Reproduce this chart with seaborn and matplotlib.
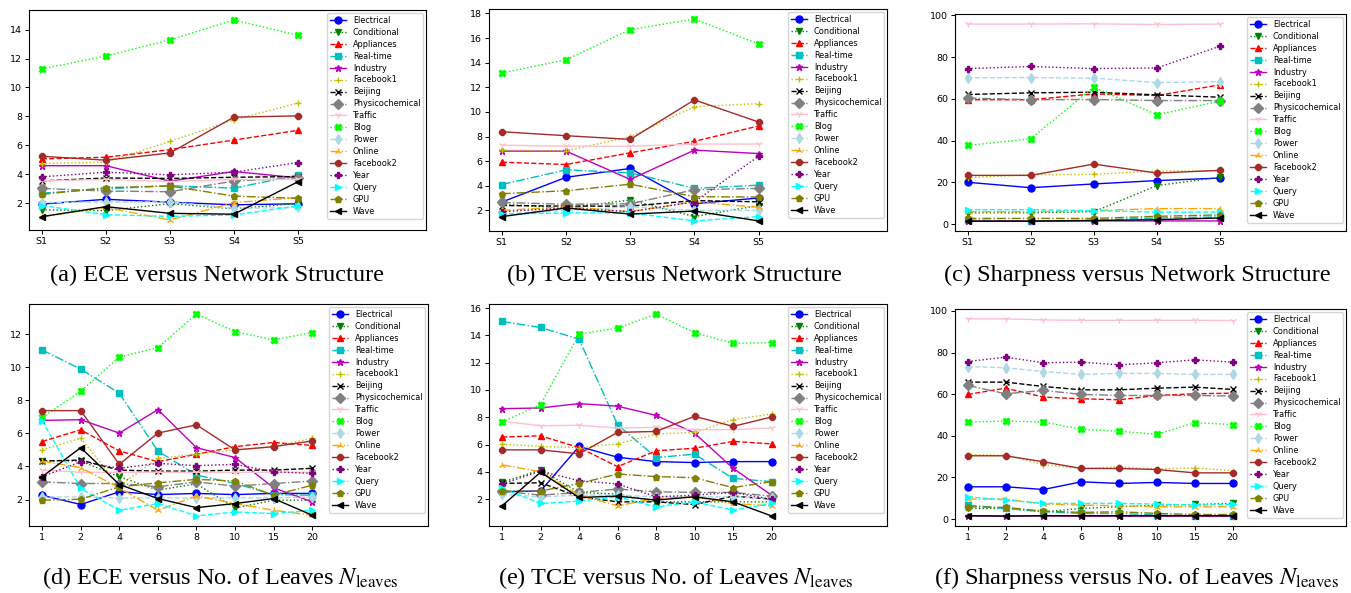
import matplotlib
matplotlib.use("Agg")
import matplotlib.pyplot as plt
from matplotlib.ticker import MultipleLocator
import seaborn as sns
import numpy as np

names = ["Electrical", "Conditional", "Appliances", "Real-time", "Industry", "Facebook1",
         "Beijing", "Physicochemical", "Traffic", "Blog", "Power", "Online", "Facebook2",
         "Year", "Query", "GPU", "Wave"]
colors = ["blue", "green", "red", "c", "m", "y", "black", "gray", "pink", "lime",
          "lightblue", "orange", "brown", "purple", "cyan", "olive", "black"]
markers = ["o", "v", "^", "s", "*", "+", "x", "D", "1", "X", "d", "2", "8", "P", ">", "p", "<"]
styles = ["-", ":", "--", "-."]

struct_labels = ["S1", "S2", "S3", "S4", "S5"]
leaves_labels = ["1", "2", "4", "6", "8", "10", "15", "20"]

ece_struct = [
    [1.95, 2.28, 2.08, 1.9, 1.97],
    [1.55, 1.5, 1.98, 1.62, 2.0],
    [5.07, 5.18, 5.71, 6.37, 7.04],
    [2.7, 3.0, 3.22, 3.05, 3.95],
    [4.6, 4.6, 3.53, 4.2, 3.76],
    [4.75, 4.84, 6.28, 7.77, 8.92],
    [3.55, 3.75, 3.72, 3.8, 3.85],
    [3.03, 2.85, 2.8, 3.54, 3.75],
    [3.56, 3.65, 3.5, 3.65, 3.65],
    [11.28, 12.17, 13.29, 14.66, 13.6],
    [2.05, 2.1, 2.1, 1.65, 1.72],
    [1.08, 1.72, 0.85, 2.05, 2.4],
    [5.25, 4.98, 5.48, 7.95, 8.04],
    [3.83, 4.15, 3.97, 4.15, 4.82],
    [1.85, 1.22, 1.1, 1.2, 1.82],
    [2.62, 3.08, 3.2, 2.5, 2.35],
    [1.08, 1.77, 1.31, 1.25, 3.49],
]
tce_struct = [
    [2.68, 4.69, 5.41, 2.55, 3.01],
    [2.5, 2.2, 2.85, 1.5, 2.4],
    [5.92, 5.73, 6.68, 7.61, 8.86],
    [4.1, 5.3, 5.05, 3.8, 4.05],
    [6.82, 6.82, 4.52, 6.9, 6.62],
    [6.9, 6.84, 7.99, 10.43, 10.68],
    [2.4, 2.35, 2.35, 2.8, 2.7],
    [2.65, 2.5, 2.54, 3.68, 3.79],
    [7.3, 7.22, 7.22, 7.39, 7.39],
    [13.16, 14.24, 16.69, 17.54, 15.52],
    [1.7, 2.0, 2.3, 2.0, 2.0],
    [2.0, 2.3, 1.9, 2.7, 2.25],
    [8.39, 8.07, 7.77, 10.98, 9.18],
    [1.9, 2.2, 1.9, 2.7, 6.4],
    [1.7, 1.8, 1.8, 1.15, 1.5],
    [3.36, 3.6, 4.13, 3.12, 3.09],
    [1.5, 2.2, 1.7, 1.95, 1.15],
]
sharp_struct = [
    [20.1, 17.5, 19.3, 20.9, 22.1],
    [5.5, 5.5, 6.0, 18.5, 22.5],
    [59.6, 59.6, 62.4, 61.6, 66.7],
    [2.0, 1.5, 2.0, 3.0, 3.5],
    [1.5, 1.5, 1.6, 1.6, 1.6],
    [22.3, 23.7, 23.9, 25.5, 25.5],
    [62.1, 62.9, 63.2, 61.9, 60.8],
    [60.4, 59.6, 59.7, 59.2, 59.2],
    [95.8, 95.8, 95.9, 95.6, 95.8],
    [37.7, 40.9, 65.6, 52.4, 58.9],
    [70.1, 70.2, 69.9, 67.8, 68.2],
    [6.0, 6.0, 6.5, 7.5, 7.5],
    [23.4, 23.4, 28.8, 24.5, 25.8],
    [74.5, 75.5, 74.5, 74.8, 85.2],
    [7.0, 7.0, 6.5, 5.8, 5.8],
    [2.8, 2.8, 2.8, 3.8, 4.5],
    [1.5, 1.5, 1.8, 2.2, 3.0],
]
ece_leaves = [
    [2.26, 1.7, 2.47, 2.3, 2.37, 2.3, 2.37, 2.37],
    [4.33, 4.33, 3.38, 2.57, 2.95, 1.49, 1.96, 1.96],
    [5.51, 6.22, 4.94, 4.29, 4.74, 5.2, 5.45, 5.27],
    [11.05, 9.89, 8.43, 4.94, 3.48, 2.97, 2.3, 2.26],
    [6.79, 6.83, 6.02, 7.44, 5.14, 4.54, 2.71, 1.86],
    [5.0, 5.71, 2.83, 4.49, 4.74, 5.0, 5.2, 5.71],
    [4.33, 4.39, 3.78, 3.72, 3.72, 3.78, 3.78, 3.89],
    [3.07, 2.97, 2.97, 2.77, 3.07, 2.81, 2.97, 3.12],
    [3.78, 3.65, 3.65, 3.65, 3.65, 3.65, 3.65, 3.65],
    [6.97, 8.55, 10.62, 11.19, 13.22, 12.16, 11.66, 12.1],
    [2.16, 2.16, 2.1, 2.1, 2.1, 2.1, 2.1, 2.16],
    [4.33, 3.93, 2.71, 1.35, 2.22, 1.76, 1.35, 1.05],
    [7.38, 7.38, 4.13, 6.02, 6.52, 5.0, 5.2, 5.55],
    [3.38, 4.29, 3.89, 4.19, 4.05, 4.13, 3.68, 3.58],
    [6.77, 2.67, 1.35, 1.76, 1.01, 1.25, 1.15, 1.35],
    [1.96, 2.02, 2.77, 3.01, 3.22, 3.12, 2.26, 2.87],
    [3.38, 5.14, 2.91, 2.06, 1.51, 1.76, 2.06, 1.05],
]
tce_leaves = [
    [2.54, 2.6, 5.86, 5.07, 4.75, 4.68, 4.75, 4.75],
    [3.23, 4.14, 2.49, 2.37, 1.8, 1.8, 1.8, 1.8],
    [6.55, 6.64, 5.78, 4.38, 5.54, 5.73, 6.23, 6.05],
    [15.02, 14.58, 13.72, 7.45, 5.05, 5.29, 3.52, 3.28],
    [8.63, 8.68, 9.0, 8.81, 8.14, 6.84, 4.26, 2.29],
    [6.03, 5.86, 5.78, 6.05, 6.77, 6.89, 7.82, 8.24],
    [3.15, 3.2, 2.17, 1.8, 1.8, 1.6, 2.22, 2.0],
    [2.59, 2.29, 2.49, 2.74, 2.54, 2.49, 2.49, 2.22],
    [7.7, 7.38, 7.41, 7.21, 7.26, 7.09, 7.09, 7.21],
    [7.65, 8.93, 14.09, 14.53, 15.56, 14.21, 13.42, 13.47],
    [2.34, 2.17, 2.29, 2.29, 2.17, 2.17, 2.17, 2.05],
    [4.51, 4.01, 2.29, 1.51, 2.05, 2.17, 1.68, 1.51],
    [5.61, 5.61, 5.32, 6.89, 6.96, 8.07, 7.33, 8.02],
    [3.11, 4.06, 3.35, 3.11, 2.17, 2.29, 2.49, 2.0],
    [2.79, 1.68, 1.85, 2.17, 1.43, 1.8, 1.19, 1.68],
    [2.59, 2.59, 3.15, 3.84, 3.65, 3.57, 2.84, 3.28],
    [1.51, 3.97, 2.12, 2.22, 1.93, 2.17, 1.8, 0.77],
]
sharp_leaves = [
    [15.5, 15.5, 14.2, 17.9, 17.1, 17.6, 17.1, 17.1],
    [5.1, 5.1, 3.5, 5.1, 5.9, 6.7, 7.0, 7.5],
    [59.9, 62.9, 58.6, 57.8, 57.3, 59.4, 60.2, 60.5],
    [6.7, 5.1, 3.5, 2.7, 2.7, 1.9, 1.6, 1.6],
    [1.5, 1.5, 1.5, 1.4, 1.4, 1.4, 1.4, 1.4],
    [31.0, 30.7, 26.2, 24.3, 25.1, 24.0, 24.6, 23.2],
    [65.8, 65.8, 63.7, 62.1, 62.1, 62.9, 63.4, 62.3],
    [64.2, 60.2, 61.8, 59.9, 59.4, 59.4, 59.4, 59.1],
    [96.2, 96.2, 95.7, 95.5, 95.5, 95.5, 95.5, 95.4],
    [46.6, 47.1, 46.6, 43.1, 42.2, 40.7, 46.3, 45.4],
    [73.3, 72.7, 70.9, 69.5, 70.0, 70.0, 69.5, 69.5],
    [9.6, 9.6, 7.2, 6.7, 6.4, 5.9, 5.9, 5.9],
    [30.4, 30.4, 27.5, 24.3, 24.3, 23.8, 22.2, 22.2],
    [75.7, 77.8, 75.1, 75.4, 74.1, 75.1, 76.5, 75.4],
    [10.7, 9.1, 7.5, 7.5, 7.5, 7.2, 6.7, 7.0],
    [5.9, 5.6, 3.8, 3.2, 3.5, 2.7, 2.2, 2.2],
    [1.6, 1.4, 1.6, 1.6, 1.6, 1.6, 1.6, 1.6],
]

captions = [
    "(a) ECE versus Network Structure",
    "(b) TCE versus Network Structure",
    "(c) Sharpness versus Network Structure",
    "(d) ECE versus No. of Leaves $N_{\\mathrm{leaves}}$",
    "(e) TCE versus No. of Leaves $N_{\\mathrm{leaves}}$",
    "(f) Sharpness versus No. of Leaves $N_{\\mathrm{leaves}}$",
]

plt.rcParams["mathtext.fontset"] = "stix"

W, H = 1351, 593
fig = plt.figure(figsize=(W / 100, H / 100), dpi=100)

# pixel boxes: left, right, top, bottom
boxes = [
    (29, 426, 10, 230), (489, 887, 9, 231), (955, 1346, 14, 231),
    (29, 428, 304, 526), (489, 887, 304, 526), (955, 1346, 309, 526),
]
panels = [
    (ece_struct, struct_labels), (tce_struct, struct_labels), (sharp_struct, struct_labels),
    (ece_leaves, leaves_labels), (tce_leaves, leaves_labels), (sharp_leaves, leaves_labels),
]
ysteps = [2, 2, 20, 2, 2, 20]
cap_pos = [(217, 275), (674, 275), (1137, 275), (220, 578), (676, 578), (1137, 578)]

for k, ((data, labels), (l, r, t, b)) in enumerate(zip(panels, boxes)):
    ax = fig.add_axes([l / W, 1 - b / H, (r - l) / W, (b - t) / H])
    x = np.arange(len(labels))
    for i, name in enumerate(names):
        sns.lineplot(x=x, y=data[i], ax=ax, color=colors[i], marker=markers[i],
                     linestyle=styles[i % 4], label=name, linewidth=1.0,
                     markersize=5, markeredgecolor=colors[i], markeredgewidth=1.0,
                     errorbar=None)
    ax.set_xticks(x)
    ax.set_xticklabels(labels)
    if len(labels) == 5:
        ax.set_xlim(-0.2, 6.0)
    else:
        ax.set_xlim(-0.34, 10.0)
    ax.yaxis.set_major_locator(MultipleLocator(ysteps[k]))
    ax.tick_params(labelsize=6.8, length=3, width=0.7, pad=2)
    for s in ax.spines.values():
        s.set_linewidth(0.8)
    ax.set_xlabel("")
    ax.set_ylabel("")
    ax.legend(loc="upper right", fontsize=5.9, borderaxespad=0.35, handlelength=2.0,
              labelspacing=0.36, borderpad=0.35)
    cx, cy = cap_pos[k]
    fig.text(cx / W, 1 - cy / H, captions[k], ha="center", va="center",
             fontsize=17.5, family="Liberation Serif")

fig.savefig("out.png", dpi=100)
